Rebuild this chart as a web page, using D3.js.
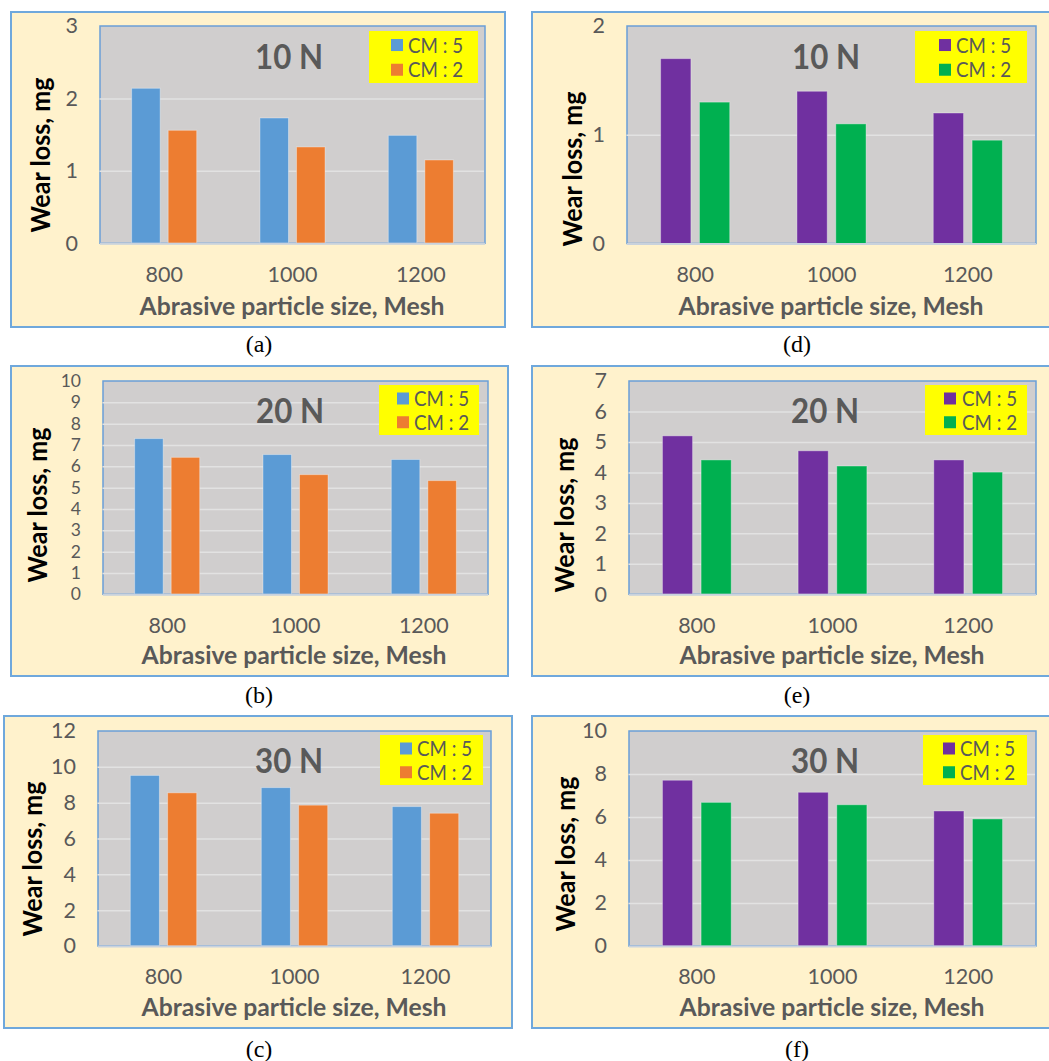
<!DOCTYPE html>
<html><head><meta charset="utf-8">
<script src="https://cdn.jsdelivr.net/npm/d3@7"></script>
<style>body{margin:0;background:#fff}svg{display:block}</style>
</head><body><svg id="c" width="1049" height="1061"></svg>
<script>
// ---------- data ----------
const categories = ["800", "1000", "1200"];
const seriesNames = ["CM : 5", "CM : 2"];
const loadLabels = ["10 N", "20 N", "30 N", "10 N", "20 N", "30 N"];
const captions = ["(a)", "(b)", "(c)", "(d)", "(e)", "(f)"];
const yTitle = "Wear loss, mg";
const xTitle = "Abrasive particle size, Mesh";

const valsA_cm5 = [2.14, 1.73, 1.49];
const valsA_cm2 = [1.56, 1.33, 1.15];
const valsB_cm5 = [7.30, 6.55, 6.32];
const valsB_cm2 = [6.42, 5.61, 5.33];
const valsC_cm5 = [9.52, 8.84, 7.78];
const valsC_cm2 = [8.55, 7.86, 7.41];
const valsD_cm5 = [1.70, 1.40, 1.20];
const valsD_cm2 = [1.30, 1.10, 0.95];
const valsE_cm5 = [5.20, 4.71, 4.41];
const valsE_cm2 = [4.41, 4.21, 4.01];
const valsF_cm5 = [7.71, 7.15, 6.28];
const valsF_cm2 = [6.68, 6.57, 5.91];

const ticksA = [0, 1, 2, 3];
const ticksB = [0, 1, 2, 3, 4, 5, 6, 7, 8, 9, 10];
const ticksC = [0, 2, 4, 6, 8, 10, 12];
const ticksD = [0, 1, 2];
const ticksE = [0, 1, 2, 3, 4, 5, 6, 7];
const ticksF = [0, 2, 4, 6, 8, 10];

const colorsLeft = ["#5b9bd5", "#ed7d31"];
const colorsRight = ["#7030a0", "#00b050"];

// ---------- layout (positions only) ----------
const panels = [
  {v5: valsA_cm5, v2: valsA_cm2, ticks: ticksA, colors: colorsLeft, outer: [11, 12, 505, 327], plot: [100, 26, 485, 243.3], yt: [50, 155], nl: [289, 69], leg: [369, 31, 478, 83], sw: 391, lt: 408, xt: [292, 315], cap: [259, 352]},
  {v5: valsB_cm5, v2: valsB_cm2, ticks: ticksB, colors: colorsLeft, outer: [11, 366, 508, 676], plot: [103, 381, 488, 594.3], yt: [47, 505], nl: [290, 423], leg: [379, 385, 479, 435], sw: 397, lt: 414, xt: [294, 664], cap: [259, 703]},
  {v5: valsC_cm5, v2: valsC_cm2, ticks: ticksC, colors: colorsLeft, outer: [4, 716, 512, 1028], plot: [98, 731, 491, 946], yt: [42, 859], nl: [289, 773], leg: [380, 735, 483, 785], sw: 400, lt: 417, xt: [294, 1016], cap: [259, 1057]},
  {v5: valsD_cm5, v2: valsD_cm2, ticks: ticksD, colors: colorsRight, outer: [532, 12, 1054, 327], plot: [627, 26, 1036, 243.5], yt: [582, 169], nl: [826, 69], leg: [915, 31, 1027, 83], sw: 939, lt: 956, xt: [831, 315], cap: [797, 352]},
  {v5: valsE_cm5, v2: valsE_cm2, ticks: ticksE, colors: colorsRight, outer: [532, 366, 1054, 676], plot: [629, 381, 1036, 594.3], yt: [574, 515], nl: [825, 423], leg: [925, 385, 1027, 435], sw: 944, lt: 962, xt: [832, 664], cap: [797, 703]},
  {v5: valsF_cm5, v2: valsF_cm2, ticks: ticksF, colors: colorsRight, outer: [532, 716, 1054, 1028], plot: [629, 731, 1036, 946], yt: [575, 854], nl: [825, 773], leg: [923, 735, 1027, 785], sw: 943, lt: 960, xt: [832, 1016], cap: [797, 1057]}
];

const FONT = "Lato, 'Open Sans', sans-serif";
const GREY = "#595959";
const svg = d3.select("#c");

function fit(sel, target) {
  const n = sel.node();
  const w = n.getComputedTextLength();
  if (w > 0) sel.attr("textLength", target).attr("lengthAdjust", "spacingAndGlyphs");
}

panels.forEach((p, i) => {
  const g = svg.append("g");
  const [ox0, oy0, ox1, oy1] = p.outer;
  g.append("rect").attr("x", ox0).attr("y", oy0).attr("width", ox1 - ox0).attr("height", oy1 - oy0)
    .attr("fill", "#fff2cc").attr("stroke", "#6fa8dc").attr("stroke-width", 2);

  const [px0, py0, px1, py1] = p.plot;
  const y = d3.scaleLinear().domain([p.ticks[0], p.ticks[p.ticks.length - 1]]).range([py1, py0]);
  const x = d3.scaleBand().domain(categories).range([px0, px1]).padding(0);
  const B = x.bandwidth();
  const gw = B * 0.507;
  const xs = d3.scaleBand().domain(seriesNames).range([(B - gw) / 2, (B + gw) / 2]).paddingInner(0.22);

  // plot area
  g.append("rect").attr("x", px0).attr("y", py0).attr("width", px1 - px0).attr("height", py1 - py0)
    .attr("fill", "#d0cece").attr("stroke", "#6a9fd8").attr("stroke-width", 1.5);

  // gridlines
  const grid = g.append("g").attr("transform", `translate(${px0},0)`)
    .call(d3.axisLeft(y).tickValues(p.ticks.slice(1, -1)).tickSize(-(px1 - px0)).tickFormat(""));
  grid.select(".domain").remove();
  grid.selectAll("line").attr("stroke", "#e2e2e2").attr("stroke-width", 1.5).attr("x1", -0.5).attr("x2", px1 - px0 - 1);

  // bars
  const data = categories.map((c, k) => ({cat: c, vals: [p.v5[k], p.v2[k]]}));
  const grp = g.selectAll(".grp").data(data).join("g").attr("transform", d => `translate(${x(d.cat)},0)`);
  grp.selectAll("rect").data(d => d.vals.map((v, s) => ({v, s})))
    .join("rect")
    .attr("x", d => xs(seriesNames[d.s]))
    .attr("width", xs.bandwidth())
    .attr("y", d => y(d.v))
    .attr("height", d => y(0) - y(d.v))
    .attr("fill", d => p.colors[d.s])
    .attr("stroke", "rgba(255,255,255,0.35)").attr("stroke-width", 1);

  // baseline axis line
  g.append("line").attr("x1", px0).attr("x2", px1).attr("y1", y(0) + 0.5).attr("y2", y(0) + 0.5)
    .attr("stroke", "#c9d2dd").attr("stroke-width", 2);

  // y axis labels
  const ya = g.append("g").attr("transform", `translate(${px0},0)`)
    .call(d3.axisLeft(y).tickValues(p.ticks).tickSize(0).tickPadding(22).tickFormat(d3.format("d")));
  ya.select(".domain").remove();
  ya.selectAll("text").attr("font-family", FONT).attr("font-size", p.ticks.length > 9 ? 17.5 : 21.5).attr("fill", GREY);

  // x axis labels
  const xa = g.append("g").attr("transform", `translate(0,${py1})`)
    .call(d3.axisBottom(x).tickSize(0).tickPadding(23));
  xa.select(".domain").remove();
  xa.selectAll("text").attr("font-family", FONT).attr("font-size", 21.5).attr("fill", GREY);

  // load label
  const nl = g.append("text").attr("x", p.nl[0]).attr("y", p.nl[1]).attr("text-anchor", "middle")
    .attr("font-family", FONT).attr("font-weight", "bold").attr("font-size", 34).attr("fill", GREY)
    .text(loadLabels[i]);
  fit(nl, 68);

  // legend
  const [lx0, ly0, lx1, ly1] = p.leg;
  g.append("rect").attr("x", lx0).attr("y", ly0).attr("width", lx1 - lx0).attr("height", ly1 - ly0).attr("fill", "#ffff00");
  const lh = ly1 - ly0;
  seriesNames.forEach((s, k) => {
    const cy = ly0 + lh * (k === 0 ? 0.27 : 0.745);
    g.append("rect").attr("x", p.sw).attr("y", cy - 6).attr("width", 12).attr("height", 12).attr("fill", p.colors[k]);
    const t = g.append("text").attr("x", p.lt).attr("y", cy + 7.5)
      .attr("font-family", FONT).attr("font-size", 21).attr("fill", GREY).text(s);
    fit(t, 55);
  });

  // axis titles
  const xtt = g.append("text").attr("x", p.xt[0]).attr("y", p.xt[1]).attr("text-anchor", "middle")
    .attr("font-family", FONT).attr("font-weight", "bold").attr("font-size", 24).attr("fill", GREY).text(xTitle);
  fit(xtt, 305);
  const ytt = g.append("text").attr("transform", `translate(${p.yt[0]},${p.yt[1]}) rotate(-90)`)
    .attr("text-anchor", "middle")
    .attr("font-family", FONT).attr("font-weight", "bold").attr("font-size", 26).attr("fill", "#000").text(yTitle);
  fit(ytt, 155);

  // caption
  g.append("text").attr("x", p.cap[0]).attr("y", p.cap[1]).attr("text-anchor", "middle")
    .attr("font-family", "'Liberation Serif', 'Times New Roman', serif").attr("font-size", 24).attr("fill", "#000")
    .text(captions[i]);
});
</script>
</body></html>
